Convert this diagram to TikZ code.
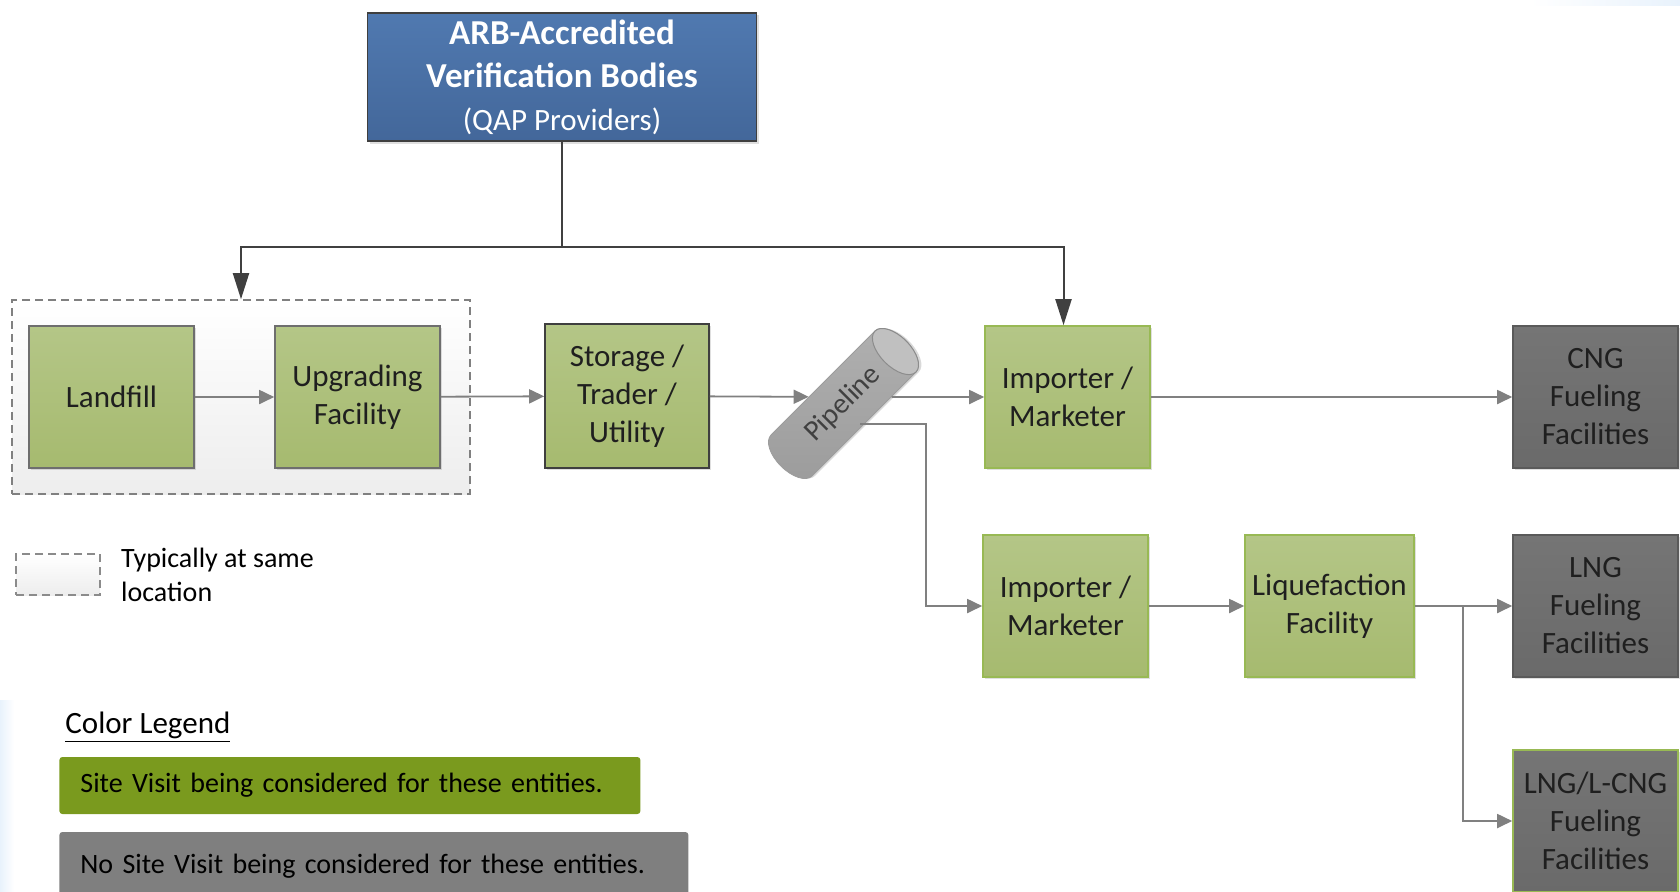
\documentclass[tikz,border=0pt]{standalone}
\usepackage{fontspec}
\setmainfont{Carlito}
\usetikzlibrary{calc}
\usetikzlibrary{arrows.meta}
\usetikzlibrary{positioning}
\usetikzlibrary{shadows}

\definecolor{arbtop}{HTML}{5079B0}
\definecolor{arbbot}{HTML}{43679A}
\definecolor{sitetop}{HTML}{B4C687}
\definecolor{sitebot}{HTML}{A6BA6F}
\definecolor{greyedge}{HTML}{6E6E6E}
\definecolor{darkedge}{HTML}{3F3F3F}
\definecolor{greenedge}{HTML}{98B954}
\definecolor{notop}{HTML}{757575}
\definecolor{nobot}{HTML}{6A6A6A}
\definecolor{noedge}{HTML}{5A5A5A}
\definecolor{pipetop}{HTML}{B0B0B0}
\definecolor{pipebot}{HTML}{9C9C9C}
\definecolor{keygreen}{HTML}{7A9A1E}
\definecolor{keygrey}{HTML}{7F7F7F}
\definecolor{flowgrey}{HTML}{808080}
\definecolor{ctlgrey}{HTML}{404040}
\definecolor{tint}{HTML}{E8F2FC}

\newcommand\boxfont{\fontsize{15.5}{19}\selectfont}
\newcommand\keyfont{\fontsize{14}{17}\selectfont}

\tikzset{
  sitebox/.style={draw=greyedge, line width=0.8pt, top color=sitetop, bottom color=sitebot,
    minimum width=82.5pt, minimum height=71pt, align=center, font=\boxfont, text=black!88,
    drop shadow={shadow xshift=1.2pt, shadow yshift=-1.2pt, opacity=0.25}},
  nobox/.style={sitebox, draw=noedge, top color=notop, bottom color=nobot},
  grpbox/.style={draw=flowgrey, line width=0.8pt, dash pattern=on 4pt off 2.5pt,
    top color=white, bottom color=black!7, minimum width=229pt, minimum height=97pt},
  flow/.style={draw=flowgrey, line width=0.9pt, -{Triangle[length=7.5pt,width=7pt]}},
  ctl/.style={draw=ctlgrey, line width=1pt},
  ctlarrow/.style={ctl, -{Triangle[length=13pt,width=8pt]}},
  keytext/.style={font=\keyfont, text=black, inner sep=0pt, align=left}
}

\begin{document}
\begin{tikzpicture}[x=0.5pt,y=-0.5pt]
\useasboundingbox (0,0) rectangle (1680,891);
\shade[left color=tint, right color=white] (0,700) rectangle (14,891);
\shade[left color=white, right color=tint] (1530,0) rectangle (1680,5);

\node[grpbox] (grp) at (241,397) {};
\node[sitebox] (land) at (111.5,397) {Landfill};
\node[sitebox] (upg) at (357.5,397) {Upgrading\\Facility};
\node[sitebox, draw=darkedge, minimum width=82pt, minimum height=72pt] (stor) at (627,396) {Storage /\\Trader /\\Utility};

% pipeline drum
\begin{scope}[shift={(843.5,403.5)}, rotate=45]
\fill[black, opacity=0.15] (75.5,-27) -- (-71.5,-27) arc[start angle=270, end angle=90, x radius=15, y radius=29]
  -- (75.5,31) arc[start angle=90, end angle=-90, x radius=15, y radius=29] -- cycle;
\shade[top color=pipetop, bottom color=pipebot, draw=pipebot, line width=0.4pt]
  (73.5,-29) -- (-73.5,-29) arc[start angle=270, end angle=90, x radius=15, y radius=29]
  -- (73.5,29) arc[start angle=90, end angle=-90, x radius=15, y radius=29] -- cycle;
\draw[black!45, line width=0.5pt, fill=pipetop!80!white] (73.5,0) ellipse [x radius=15, y radius=29];
\end{scope}
\node[rotate=45, minimum width=86pt, minimum height=29pt, inner sep=0pt, text=ctlgrey,
  font=\fontsize{14.5}{17}\selectfont] (pipe) at (850,397) {Pipeline\hspace*{10pt}};

\node[sitebox, draw=greenedge] (imp1) at (1067.5,397) {Importer /\\Marketer};
\node[nobox] (cng) at (1595.5,397) {CNG\\Fueling\\Facilities};
\node[sitebox, draw=greenedge] (imp2) at (1065.5,606) {Importer /\\Marketer};
\node[sitebox, draw=greenedge, minimum width=84.5pt] (liq) at (1329.5,606) {Liquefaction\\Facility};
\node[nobox] (lng) at (1595.5,606) {LNG\\Fueling\\Facilities};
\node[nobox, draw=greenedge] (lcng) at (1595.5,821) {LNG/L-CNG\\Fueling\\Facilities};

\node[draw=darkedge, line width=0.8pt, top color=arbtop, bottom color=arbbot, text=white,
  minimum width=194.5pt, minimum height=59pt, align=center, font=\fontsize{17.5}{21.5}\selectfont,
  drop shadow={shadow xshift=1.2pt, shadow yshift=-1.2pt, opacity=0.25}] (arb) at (562,77)
  {\textbf{ARB-Accredited}\\\textbf{Verification Bodies}\\{\fontsize{15.5}{21.5}\selectfont(QAP Providers)}};

\draw[ctl] (arb.south) -- ++(0,105) coordinate (split);
\draw[ctlarrow] (split) -| (grp.north);
\draw[ctlarrow] (split) -| ([xshift=-2pt]imp1.north);

\draw[flow] (land) -- (upg);
\draw[flow] (upg) -- (stor);
\draw[flow] (stor) -- (pipe);
\draw[flow] (pipe) -- (imp1);
\coordinate (pipeout) at (860,424);
\draw[flow] (pipeout) -- ++(66,0) |- (imp2);
\draw[flow] (imp1) -- (cng);
\draw[flow] (imp2) -- (liq);
\draw[flow] (liq) -- (lng);
\draw[flow] (liq.east) -- ++(48,0) |- (lcng);

\node[grpbox, draw=greyedge!80, minimum width=42pt, minimum height=20.5pt] (keybox) at (58,574.5) {};
\node[keytext, right=10pt of keybox] (keynote) {Typically at same\\location};
\node[keytext, anchor=west, font=\fontsize{15.5}{19}\selectfont] (keyhead) at (65,727) {\underline{Color Legend}};
\node[keytext, anchor=west, fill=keygreen, rounded corners=1.5pt, inner xsep=10.5pt,
  text width=269.5pt, minimum height=28.5pt] (keysite) at (59,785.5) {Site Visit being considered for these entities.};
\node[keytext, anchor=west, fill=keygrey, rounded corners=1.5pt, inner xsep=10.5pt,
  text width=293.5pt, minimum height=34pt] (keyno) at (59,866) {No Site Visit being considered for these entities.};
\end{tikzpicture}
\end{document}
